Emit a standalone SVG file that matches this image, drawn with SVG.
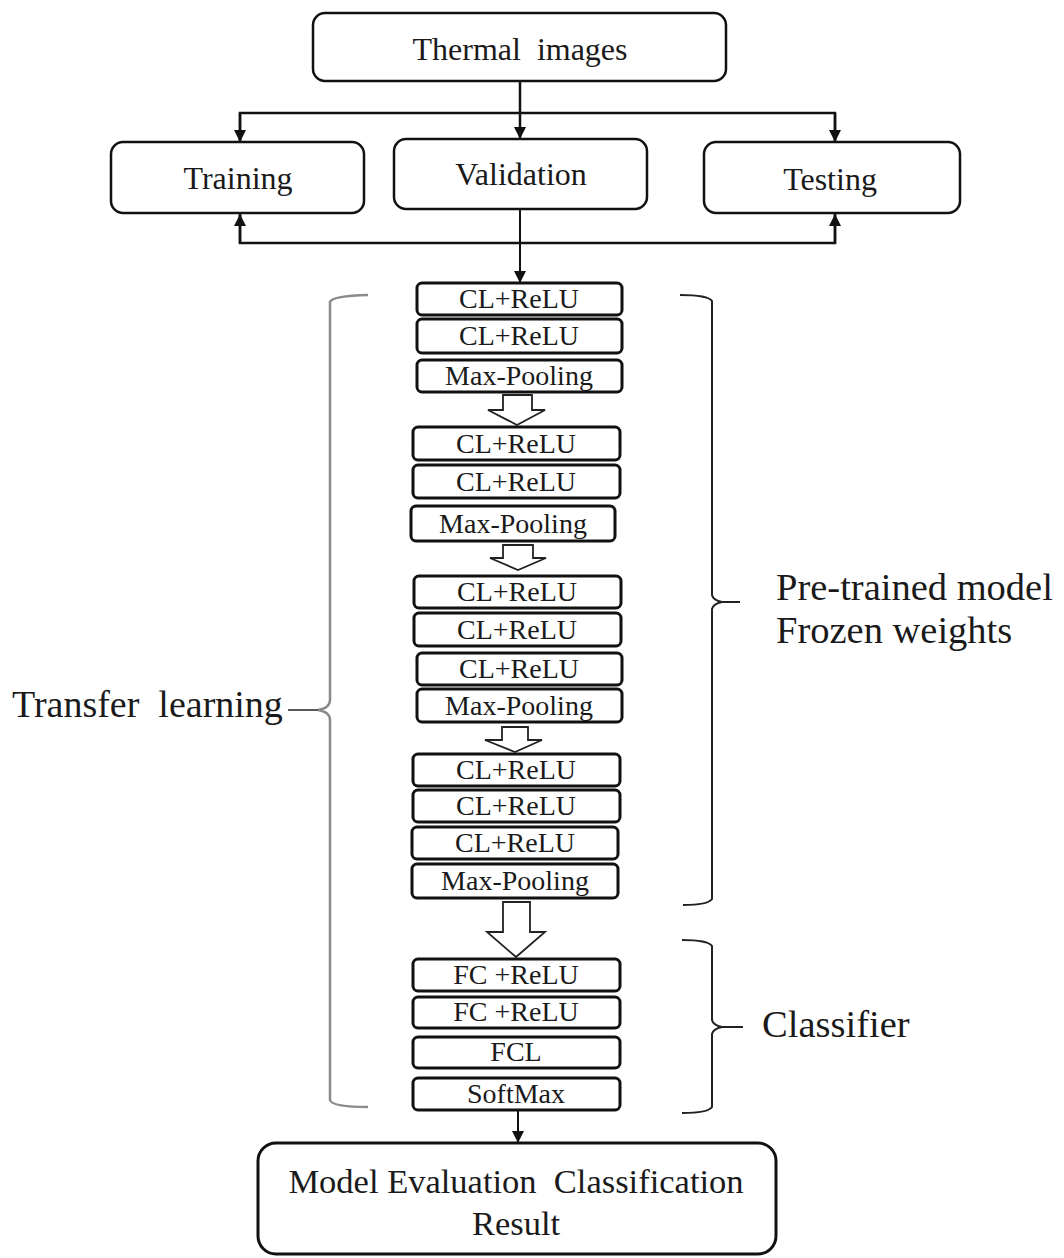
<svg xmlns="http://www.w3.org/2000/svg" width="1064" height="1258" viewBox="0 0 1064 1258">
<style>
.box{fill:#fff;stroke:#111;stroke-width:2.5}
.lay{fill:#fff;stroke:#111;stroke-width:3}
.t{font-family:"Liberation Serif","Times New Roman",serif;fill:#1a1a1a;text-anchor:middle}
.big{font-size:32px}
.mid{font-size:32px}
.ly{font-size:28px}
.lbl{font-family:"Liberation Serif","Times New Roman",serif;fill:#1a1a1a;font-size:38.5px}
.con{stroke:#111;stroke-width:2.5;fill:none}
.hol{fill:#fff;stroke:#222;stroke-width:1.8}
.br{fill:none;stroke:#222;stroke-width:2}
.brg{fill:none;stroke:#8a8a8a;stroke-width:2.5}
</style>
<defs>
<marker id="ah" markerUnits="userSpaceOnUse" markerWidth="14" markerHeight="14" refX="12" refY="6" orient="auto">
<path d="M0,0 L12,6 L0,12 z" fill="#111"/>
</marker>
</defs>
<rect width="1064" height="1258" fill="#fff"/>

<g id="connectors">
<line class="con" x1="520" y1="81" x2="520" y2="139" marker-end="url(#ah)"/>
<polyline class="con" points="240,142 240,113 835,113 835,142"/>
<line class="con" x1="240" y1="113" x2="240" y2="142" marker-end="url(#ah)"/>
<line class="con" x1="835" y1="113" x2="835" y2="142" marker-end="url(#ah)"/>
<polyline class="con" points="240,214 240,243 835,243 835,214"/>
<line class="con" x1="240" y1="243" x2="240" y2="214" marker-end="url(#ah)"/>
<line class="con" x1="835" y1="243" x2="835" y2="214" marker-end="url(#ah)"/>
<line class="con" x1="520" y1="209" x2="520" y2="283" marker-end="url(#ah)" style="stroke-width:2"/>
<line class="con" x1="518" y1="1110" x2="518" y2="1143" marker-end="url(#ah)" style="stroke-width:2"/>
<path class="hol" d="M503,395 L532,395 L532,410 L545,410 L517,425 L488,410 L503,410 Z"/>
<path class="hol" d="M503,545 L533,545 L533,558 L546,558 L518,570 L490,558 L503,558 Z"/>
<path class="hol" d="M502,727 L528,727 L528,740 L542,740 L515,752 L485,740 L502,740 Z"/>
<path class="hol" d="M503,902 L530,902 L530,932 L545,932 L516,957 L487,932 L503,932 Z"/>
</g>

<g id="thermal"><rect class="box" x="313" y="13" width="413" height="68" rx="12"/><text class="t big" x="520" y="60" xml:space="preserve">Thermal  images</text></g>
<g id="training"><rect class="box" x="111" y="142" width="253" height="71" rx="12"/><text class="t mid" x="238" y="189">Training</text></g>
<g id="validation"><rect class="box" x="394" y="139" width="253" height="70" rx="12"/><text class="t mid" x="521" y="185">Validation</text></g>
<g id="testing"><rect class="box" x="704" y="142" width="256" height="71" rx="12"/><text class="t mid" x="830" y="190">Testing</text></g>

<g id="l1"><rect class="lay" x="417" y="283" width="205" height="32" rx="5"/><text class="t ly" x="519" y="308">CL+ReLU</text></g>
<g id="l2"><rect class="lay" x="417" y="319" width="205" height="34" rx="5"/><text class="t ly" x="519" y="345">CL+ReLU</text></g>
<g id="l3"><rect class="lay" x="417" y="360" width="205" height="32" rx="5"/><text class="t ly" x="519" y="385">Max-Pooling</text></g>
<g id="l4"><rect class="lay" x="413" y="427" width="207" height="33" rx="5"/><text class="t ly" x="516" y="453">CL+ReLU</text></g>
<g id="l5"><rect class="lay" x="413" y="465" width="207" height="33" rx="5"/><text class="t ly" x="516" y="491">CL+ReLU</text></g>
<g id="l6"><rect class="lay" x="411" y="506" width="204" height="35" rx="5"/><text class="t ly" x="513" y="533">Max-Pooling</text></g>
<g id="l7"><rect class="lay" x="414" y="576" width="207" height="32" rx="5"/><text class="t ly" x="517" y="601">CL+ReLU</text></g>
<g id="l8"><rect class="lay" x="414" y="613" width="207" height="33" rx="5"/><text class="t ly" x="517" y="639">CL+ReLU</text></g>
<g id="l9"><rect class="lay" x="417" y="653" width="205" height="32" rx="5"/><text class="t ly" x="519" y="678">CL+ReLU</text></g>
<g id="l10"><rect class="lay" x="417" y="689" width="205" height="33" rx="5"/><text class="t ly" x="519" y="715">Max-Pooling</text></g>
<g id="l11"><rect class="lay" x="413" y="754" width="207" height="32" rx="5"/><text class="t ly" x="516" y="779">CL+ReLU</text></g>
<g id="l12"><rect class="lay" x="413" y="790" width="207" height="32" rx="5"/><text class="t ly" x="516" y="815">CL+ReLU</text></g>
<g id="l13"><rect class="lay" x="412" y="827" width="206" height="32" rx="5"/><text class="t ly" x="515" y="852">CL+ReLU</text></g>
<g id="l14"><rect class="lay" x="412" y="864" width="206" height="34" rx="5"/><text class="t ly" x="515" y="890">Max-Pooling</text></g>
<g id="l15"><rect class="lay" x="413" y="959" width="207" height="32" rx="5"/><text class="t ly" x="516" y="984">FC +ReLU</text></g>
<g id="l16"><rect class="lay" x="413" y="997" width="207" height="31" rx="5"/><text class="t ly" x="516" y="1021">FC +ReLU</text></g>
<g id="l17"><rect class="lay" x="413" y="1037" width="207" height="31" rx="5"/><text class="t ly" x="516" y="1061">FCL</text></g>
<g id="l18"><rect class="lay" x="413" y="1078" width="207" height="32" rx="5"/><text class="t ly" x="516" y="1103">SoftMax</text></g>

<g id="result"><rect class="box" x="258" y="1143" width="518" height="111" rx="18" style="stroke-width:3"/>
<text class="t" style="font-size:34.5px" x="516" y="1193" xml:space="preserve">Model Evaluation  Classification</text>
<text class="t" style="font-size:34.5px" x="516" y="1235">Result</text></g>

<g id="transfer">
<path class="brg" d="M368,295 Q332,296 330,302 L330,700 Q330,708 318,710 Q330,712 330,720 L330,1100 Q332,1107 368,1107"/>
<line class="brg" x1="288" y1="710" x2="318" y2="710" style="stroke:#444;stroke-width:1.8"/>
<text class="lbl" x="12" y="717" style="font-size:38px" xml:space="preserve">Transfer  learning</text>
</g>
<g id="pretrained">
<path class="br" d="M680,295 Q708,295 712,301 L712,595 Q713,600 722,602 Q713,604 712,609 L712,899 Q708,905 683,905"/>
<line class="br" x1="720" y1="602" x2="740" y2="602"/>
<text class="lbl" x="776" y="600">Pre-trained model</text>
<text class="lbl" x="776" y="643">Frozen weights</text>
</g>
<g id="classifier">
<path class="br" d="M682,940 Q708,940 712,946 L712,1020 Q713,1025 722,1027 Q713,1029 712,1034 L712,1107 Q708,1113 682,1113"/>
<line class="br" x1="720" y1="1027" x2="743" y2="1027"/>
<text class="lbl" x="762" y="1037">Classifier</text>
</g>
</svg>
